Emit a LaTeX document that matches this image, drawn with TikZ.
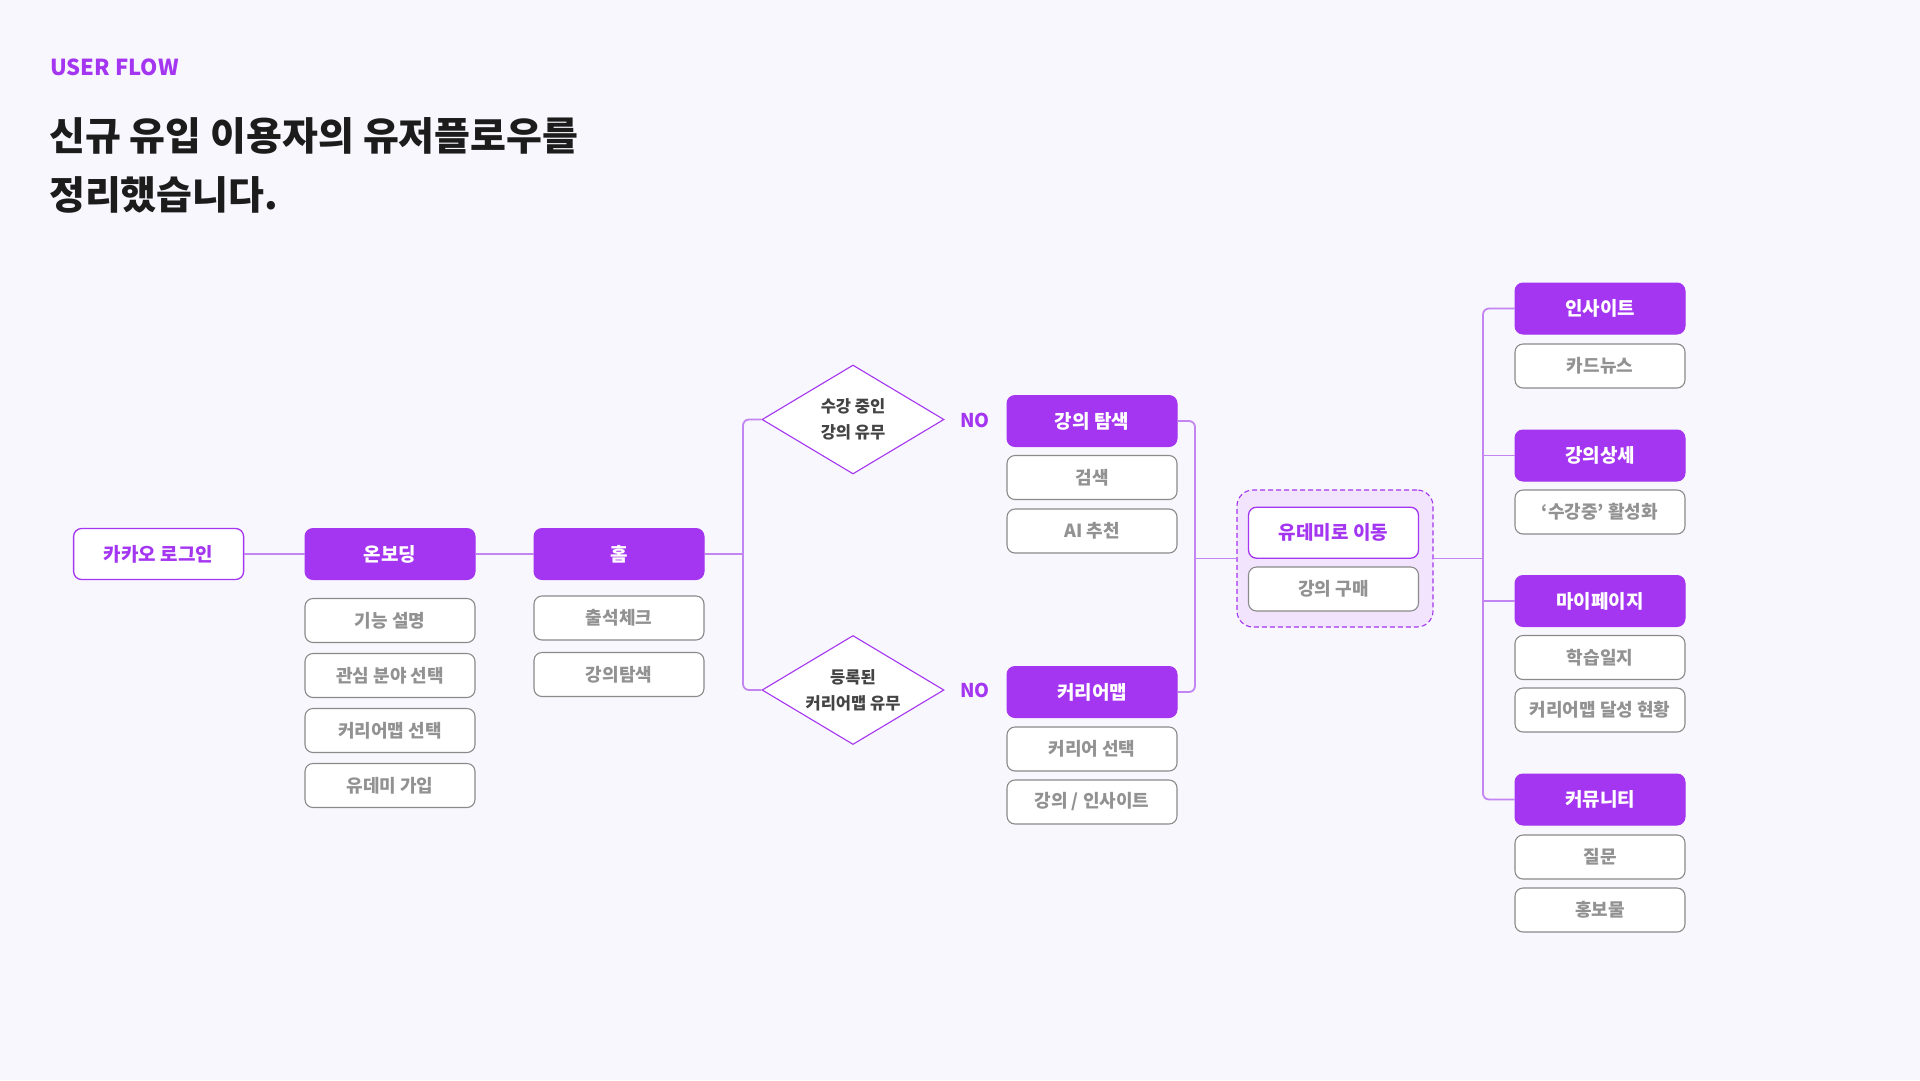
\documentclass[tikz,border=0pt]{standalone}
\usepackage{fontspec}
\setmainfont{Noto Sans CJK KR}
\usetikzlibrary{shapes.geometric}
\definecolor{pur}{HTML}{A435F0}
\definecolor{linec}{HTML}{C285F2}
\definecolor{bgc}{HTML}{F8F7FD}
\definecolor{subtxt}{HTML}{929292}
\definecolor{subborder}{HTML}{8A8A8A}
\definecolor{grpfill}{HTML}{F1E4FC}
\definecolor{titlec}{HTML}{1C1C1C}
\definecolor{dtxt}{HTML}{444444}
\begin{document}
\begin{tikzpicture}[x=1pt,y=-1pt,
  mainbox/.style={rectangle, rounded corners=8pt, fill=pur, draw=pur, line width=1pt,
    minimum width=170pt, minimum height=51pt, inner sep=0pt, text=white,
    font=\fontsize{19}{21}\selectfont\bfseries},
  subbox/.style={rectangle, rounded corners=8pt, fill=white, draw=subborder, line width=1.1pt,
    minimum width=170pt, minimum height=44pt, inner sep=0pt, text=subtxt,
    font=\fontsize{18}{20}\selectfont\bfseries},
  outbox/.style={rectangle, rounded corners=8pt, fill=white, draw=pur, line width=1.3pt,
    minimum width=170pt, minimum height=51pt, inner sep=0pt, text=pur,
    font=\fontsize{19}{21}\selectfont\bfseries},
  decision/.style={diamond, draw=pur, fill=white, line width=1.1pt, inner sep=0pt,
    minimum width=182pt, minimum height=109pt},
  dlabel/.style={text=dtxt, align=center, inner sep=0pt,
    font=\fontsize{16.5}{26}\selectfont\bfseries},
  nolabel/.style={text=pur, font=\fontsize{19}{21}\selectfont\bfseries, inner sep=0pt},
  conn/.style={draw=linec, line width=1.8pt, rounded corners=6pt},
]
\fill[bgc] (0,0) rectangle (1920,1080);
\useasboundingbox (0,0) rectangle (1920,1080);

% heading
\node[anchor=base west, inner sep=0pt, text=pur, font=\fontsize{22}{26}\selectfont\bfseries] (tag) at (50,75) {USER FLOW};
\node[anchor=base west, inner sep=0pt, text=titlec, font=\fontsize{39}{44}\selectfont\bfseries] (title1) at (49,150) {신규 유입 이용자의 유저플로우를};
\node[anchor=base west, inner sep=0pt, text=titlec, font=\fontsize{39}{44}\selectfont\bfseries] (title2) at (49,209.5) {정리했습니다.};

% column 1-3
\node[outbox] (kakao) at (158.6,554) {카카오 로그인};
\node[mainbox] (onb) at (390,554) {온보딩};
\node[subbox] (o1) at (390,620.5) {기능 설명};
\node[subbox] (o2) at (390,675.5) {관심 분야 선택};
\node[subbox] (o3) at (390,730.5) {커리어맵 선택};
\node[subbox] (o4) at (390,785.5) {유데미 가입};
\node[mainbox] (home) at (619,554) {홈};
\node[subbox] (h1) at (619,618) {출석체크};
\node[subbox] (h2) at (619,674.5) {강의탐색};

% decisions
\node[decision] (d1) at (853,419.5) {};
\node[dlabel] (d1t) at (d1.center) {수강 중인\\강의 유무};
\node[decision] (d2) at (853,690) {};
\node[dlabel] (d2t) at (d2.center) {등록된\\커리어맵 유무};
\node[nolabel] (no1) at (975,420) {NO};
\node[nolabel] (no2) at (975,690) {NO};

% lecture search / career map
\node[mainbox] (lec) at (1092,421) {강의 탐색};
\node[subbox] (l1) at (1092,477.5) {검색};
\node[subbox] (l2) at (1092,531) {AI 추천};
\node[mainbox] (cm) at (1092,692) {커리어맵};
\node[subbox] (c1) at (1092,749) {커리어 선택};
\node[subbox] (c2) at (1092,802) {강의 / 인사이트};

% group
\node[rectangle, rounded corners=16pt, fill=grpfill, draw=pur, dashed, dash pattern=on 5pt off 3pt,
  line width=1.1pt, minimum width=196pt, minimum height=137pt] (grp) at (1335,558.5) {};
\node[outbox] (ud) at (1333.5,532.7) {유데미로 이동};
\node[subbox] (buy) at (1333.5,589) {강의 구매};

% right column
\node[mainbox] (ins) at (1600,308.5) {인사이트};
\node[subbox] (i1) at (1600,366) {카드뉴스};
\node[mainbox] (lecd) at (1600,455.5) {강의상세};
\node[subbox] (ld1) at (1600,512) {‘수강중’ 활성화};
\node[mainbox] (my) at (1600,601) {마이페이지};
\node[subbox] (m1) at (1600,657.5) {학습일지};
\node[subbox] (m2) at (1600,710) {커리어맵 달성 현황};
\node[mainbox] (com) at (1600,799.5) {커뮤니티};
\node[subbox] (cm1) at (1600,857) {질문};
\node[subbox] (cm2) at (1600,910) {홍보물};

% junctions
\coordinate (j1) at (743,554);
\coordinate (j2) at (1195,558.5);
\coordinate (j3) at (1483,558.5);

% connectors
\draw[conn] (kakao.east) -- (onb.west);
\draw[conn] (onb.east) -- (home.west);
\draw[conn] (home.east) -- (j1);
\draw[conn] (d1.west) -| (j1) |- (d2.west);
\draw[conn] (lec.east) -| (j2) |- (cm.east);
\draw[conn] (j2) -- (grp.west);
\draw[conn] (grp.east) -- (j3);
\draw[conn] (ins.west) -| (j3) |- (com.west);
\draw[conn] (j3 |- lecd.west) -- (lecd.west);
\draw[conn] (j3 |- my.west) -- (my.west);
\end{tikzpicture}
\end{document}
